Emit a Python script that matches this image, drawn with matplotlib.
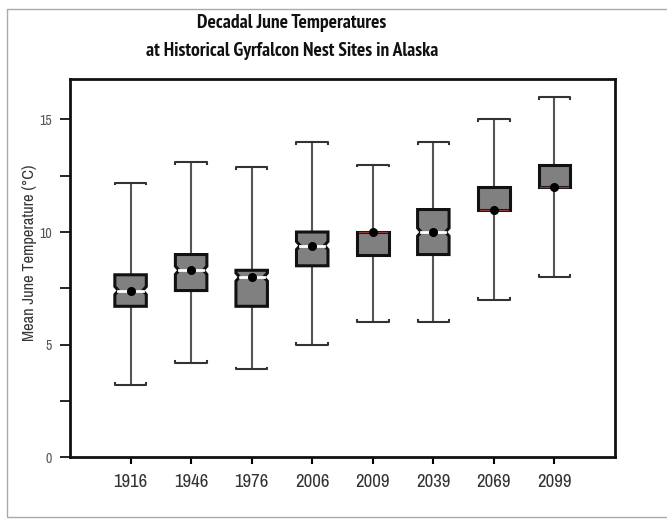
import matplotlib
matplotlib.use("Agg")
import matplotlib.pyplot as plt
from matplotlib.patches import Polygon, Rectangle
from matplotlib.ticker import MultipleLocator

plt.rcParams['font.family'] = ['Archivo Narrow', 'DejaVu Sans']

years = ['1916', '1946', '1976', '2006', '2009', '2039', '2069', '2099']
whislo = [3.2, 4.2, 3.9, 5.0, 6.0, 6.0, 7.0, 8.0]
q1 = [6.7, 7.4, 6.7, 8.5, 9.0, 9.0, 11.0, 12.0]
medians = [7.4, 8.3, 8.0, 9.4, 10.0, 10.0, 11.0, 12.0]
q3 = [8.1, 9.0, 8.3, 10.0, 10.0, 11.0, 12.0, 13.0]
whishi = [12.2, 13.1, 12.9, 14.0, 13.0, 14.0, 15.0, 16.0]
means = [7.4, 8.3, 8.0, 9.4, 10.0, 10.0, 11.0, 12.0]

W = 0.26      # half box width
NH = 0.18     # notch half height
ND = 0.06     # notch depth
HOOK = 0.08   # cap end hook

fig = plt.figure(figsize=(6.67, 5.23), dpi=100)
ax = fig.add_axes([0.105, 0.126, 0.817, 0.723])

# thin grey frame around the whole graphic
fig.patches.append(Rectangle((7 / 667, 6 / 523), 1.0, 508 / 523, transform=fig.transFigure,
                             fill=False, edgecolor='#aaaaaa', linewidth=1))

for i in range(len(years)):
    x = i + 1
    lo, a, m, b, hi = whislo[i], q1[i], medians[i], q3[i], whishi[i]

    # whiskers
    ax.plot([x, x], [b, hi], color='#555555', lw=1.5, zorder=1, solid_capstyle='butt')
    ax.plot([x, x], [lo, a], color='#555555', lw=1.5, zorder=1, solid_capstyle='butt')
    # caps with small hooks at the ends
    ax.plot([x - W, x - W, x + W, x + W], [hi - HOOK, hi, hi, hi - HOOK],
            color='#333333', lw=1.5, zorder=2)
    ax.plot([x - W, x - W, x + W, x + W], [lo + HOOK, lo, lo, lo + HOOK],
            color='#333333', lw=1.5, zorder=2)

    notched = a < m < b
    if notched:
        nlo, nhi = max(m - NH, a), min(m + NH, b)
        pts = [(x - W, a), (x + W, a), (x + W, nlo), (x + W - ND, m), (x + W, nhi),
               (x + W, b), (x - W, b), (x - W, nhi), (x - W + ND, m), (x - W, nlo)]
    else:
        pts = [(x - W, a), (x + W, a), (x + W, b), (x - W, b)]
    ax.add_patch(Polygon(pts, closed=True, facecolor='#808080', edgecolor='#111111',
                         lw=2.2, zorder=3))

    if notched:
        ax.plot([x - W + ND, x + W - ND], [m, m], color='white', lw=2, zorder=4)
    else:
        ax.plot([x - W + 0.03, x + W - 0.03], [m, m], color='#8b3a3a', lw=1, zorder=4)

ax.plot(range(1, len(years) + 1), means, 'o', color='black', markersize=5.5, zorder=5)

ax.set_xlim(0, 9)
ax.set_ylim(0, 16.8)
ax.set_xticks(range(1, len(years) + 1))
ax.set_xticklabels(years, fontsize=13.5, color='#333333')
ax.set_yticks([0, 5, 10, 15])
ax.yaxis.set_minor_locator(MultipleLocator(2.5))
ax.tick_params(axis='y', which='both', direction='out', length=7, width=1.2,
               labelsize=10, labelcolor='#555555', pad=6)
ax.tick_params(axis='x', direction='out', length=5, width=1.5, pad=7)

for s in ax.spines.values():
    s.set_linewidth(2)
    s.set_color('#111111')

ax.set_ylabel('Mean June Temperature (°C)', fontsize=11.8, color='#333333')
ax.yaxis.set_label_coords(-0.061, 0.54)

title_font = ['PT Sans Narrow', 'Archivo Narrow', 'DejaVu Sans']
fig.text(292 / 667, 1 - 23 / 523, 'Decadal June Temperatures', ha='center', va='center',
         fontsize=14, fontweight='bold', color='#111111', family=title_font)
fig.text(292 / 667, 1 - 51 / 523, 'at Historical Gyrfalcon Nest Sites in Alaska', ha='center',
         va='center', fontsize=14, fontweight='bold', color='#111111', family=title_font)

fig.savefig('out.png', dpi=100)
